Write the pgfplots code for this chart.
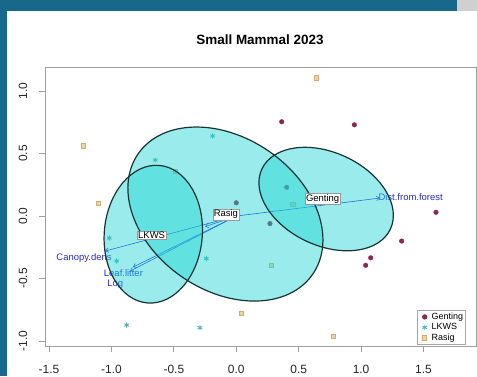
\documentclass[border=0pt]{standalone}
\usepackage{fontspec}
\setmainfont{Liberation Sans}
\usepackage{pgfplots}
\pgfplotsset{compat=1.18}
\usetikzlibrary{arrows.meta}

\definecolor{frameblue}{RGB}{24,104,140}
\definecolor{framegray}{RGB}{208,208,208}
\definecolor{genting}{RGB}{140,38,80}
\definecolor{lkws}{RGB}{80,178,180}
\definecolor{rasigfill}{RGB}{238,212,165}
\definecolor{rasigedge}{RGB}{212,172,112}
\definecolor{ellfill}{RGB}{30,212,212}
\definecolor{ellline}{RGB}{22,52,52}
\definecolor{vecblue}{RGB}{40,40,215}

\begin{document}
\begin{tikzpicture}
\begin{axis}[
  clip=false,
  clip marker paths=true,
  scale only axis,
  width=431bp, height=279bp,
  xmin=-1.533, xmax=1.921, ymin=-1.04, ymax=1.192,
  axis line style={draw=gray!75, line width=0.8bp},
  xtick={-1.5,-1,-0.5,0,0.5,1,1.5},
  xticklabels={-1.5,-1.0,-0.5,0.0,0.5,1.0,1.5},
  ytick={-1,-0.5,0,0.5,1},
  yticklabels={-1.0,-0.5,0.0,0.5,1.0},
  tick align=outside, xtick pos=bottom, ytick pos=left,
  major tick length=6bp,
  tick style={gray!75, line width=0.8bp},
  ticklabel style={font=\fontsize{12}{14}\selectfont, text=black!85},
  xticklabel style={anchor=center, inner sep=0pt, yshift=-17bp},
  yticklabel style={anchor=center, inner sep=0pt, xshift=-16bp, rotate=90},
  legend style={at={(0.863,0.004)}, anchor=south west,
    draw=gray!70, line width=0.6bp, fill=white, inner sep=1.5bp,
    font=\fontsize{9}{9}\selectfont, row sep=0pt,
    nodes={inner sep=0.5bp, text height=7bp, text depth=2.5bp}},
  legend cell align=left,
  legend image code/.code={\path (0bp,0bp) (11.5bp,0bp);
    \draw[mark repeat=2,mark phase=2,#1] plot coordinates {(0bp,0bp)(5.5bp,0bp)(11bp,0bp)};},
]
% page extent and slide frame
\path (axis cs:-1.893,-1.28) rectangle (axis cs:1.9287,1.728);
\fill[frameblue] (axis cs:-1.893,1.64) rectangle (axis cs:1.768,1.728);
\fill[framegray] (axis cs:1.768,1.64) rectangle (axis cs:1.9287,1.728);
\fill[frameblue] (axis cs:-1.893,-1.28) rectangle (axis cs:-1.8333,1.64);
\node[font=\fontsize{13.5}{16}\selectfont\bfseries] at (axis cs:0.19,1.408) {Small Mammal 2023};

% site scores
\addplot[only marks, mark=*, mark size=2.3bp, color=genting] coordinates {
  (0.364,0.754) (0.946,0.730) (1.600,0.030) (1.325,-0.200)
  (1.077,-0.334) (1.037,-0.394) (0.000,0.106) (0.270,-0.060) (0.404,0.230)
};
\addplot[only marks, mark=asterisk, mark size=2.6bp, color=lkws, line width=0.9bp] coordinates {
  (-0.190,0.640) (-0.649,0.448) (-1.017,-0.176) (-0.958,-0.360)
  (-0.240,-0.340) (-0.878,-0.872) (-0.291,-0.893) (-1.226,0.562)
};
\addplot[only marks, mark=square*, mark size=2.1bp,
  mark options={fill=rasigfill, draw=rasigedge, line width=0.7bp}] coordinates {
  (0.644,1.106) (-1.106,0.101) (0.043,-0.778) (0.777,-0.960)
  (0.280,-0.394) (0.454,0.094) (-0.486,0.355) (-1.226,0.562)
};
\legend{Genting,LKWS,Rasig}

% fitted environmental vectors
\pgfplotsset{every axis plot/.append style={forget plot}}
\addplot[vecblue, line width=0.6bp, -{Straight Barb[length=3bp,width=4.5bp]}] coordinates {(0,0) (1.151,0.144)};
\addplot[vecblue, line width=0.6bp, -{Straight Barb[length=3bp,width=4.5bp]}] coordinates {(0,0) (-1.051,-0.280)};
\addplot[vecblue, line width=0.6bp, -{Straight Barb[length=3bp,width=4.5bp]}] coordinates {(0,0) (-0.827,-0.408)};
\addplot[vecblue, line width=0.6bp, -{Straight Barb[length=3bp,width=4.5bp]}] coordinates {(0,0) (-0.850,-0.440)};
\addplot[vecblue, line width=0.6bp, -{Straight Barb[length=3bp,width=4.5bp]}] coordinates {(0,0) (-0.250,-0.085)};
\node[text=vecblue, font=\fontsize{9.5}{11}\selectfont] at (axis cs:1.397,0.154) {Dist.from.forest};
\node[text=vecblue, font=\fontsize{9.5}{11}\selectfont] at (axis cs:-1.220,-0.336) {Canopy.dens};
\node[text=vecblue, font=\fontsize{9.5}{11}\selectfont] at (axis cs:-0.904,-0.458) {Leaf.litter};
\node[text=vecblue, font=\fontsize{9.5}{11}\selectfont] at (axis cs:-0.970,-0.544) {Log};

% group ellipses
\fill[ellfill, fill opacity=0.45, rotate around={-25:(axis cs:0.720,0.136)}] (axis cs:0.720,0.136) ellipse [x radius=70.9bp, y radius=46.5bp];
\fill[ellfill, fill opacity=0.45, rotate around={-5:(axis cs:-0.665,-0.145)}] (axis cs:-0.665,-0.145) ellipse [x radius=49bp, y radius=69bp];
\fill[ellfill, fill opacity=0.45, rotate around={-34.5:(axis cs:-0.087,0.016)}] (axis cs:-0.087,0.016) ellipse [x radius=106bp, y radius=76.4bp];
\draw[ellline, line width=1.2bp, rotate around={-25:(axis cs:0.720,0.136)}] (axis cs:0.720,0.136) ellipse [x radius=70.9bp, y radius=46.5bp];
\draw[ellline, line width=1.2bp, rotate around={-5:(axis cs:-0.665,-0.145)}] (axis cs:-0.665,-0.145) ellipse [x radius=49bp, y radius=69bp];
\draw[ellline, line width=1.2bp, rotate around={-34.5:(axis cs:-0.087,0.016)}] (axis cs:-0.087,0.016) ellipse [x radius=106bp, y radius=76.4bp];

% group labels
\node[draw=gray!80, fill=white, inner sep=1bp, font=\fontsize{9.5}{11}\selectfont] at (axis cs:0.692,0.136) {Genting};
\node[draw=gray!80, fill=white, inner sep=1bp, font=\fontsize{9.5}{11}\selectfont] at (axis cs:-0.678,-0.152) {LKWS};
\node[draw=gray!80, fill=white, inner sep=1bp, font=\fontsize{9.5}{11}\selectfont] at (axis cs:-0.083,0.014) {Rasig};
\end{axis}
\end{tikzpicture}
\end{document}
